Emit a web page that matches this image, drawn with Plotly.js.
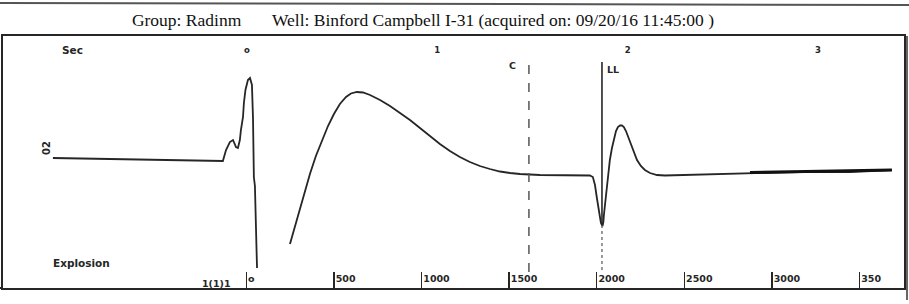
<!DOCTYPE html>
<html>
<head>
<meta charset="utf-8">
<script src="https://cdn.plot.ly/plotly-3.0.1.min.js"></script>
<style>html,body{margin:0;padding:0;background:#fff}#chart{width:909px;height:304px}</style>
</head>
<body>
<div id="chart"></div>
<script>
// Acoustic trace: time (ms) and amplitude (arbitrary units)
const traceTime = [-1104,-836,-550,-265,-134,-116,-94,-76,-59,-48,-37,-31,-19,-14,-5,9,21,32,38,43,49,61,
  209,249,289,329,363,397,432,466,500,534,569,597,631,666,706,763,820,877,934,991,1048,1105,1162,1219,1276,1333,1390,1448,1505,1562,1676,1790,1961,
  1978,1990,2001,2013,2024,2033,2038,2041,2053,2064,2075,2087,2098,2110,2121,2133,2144,2155,2167,2178,2195,2212,2230,2252,2275,2304,2344,2389,2589,2875,3160,3445,3685];
const traceAmp = [130,129,128,127,127,138,146,148,141,140,148,158,171,185,198,208,210,203,170,111,102,20,
  null,44,69,94,114,132,148,162,174,184,191,194.5,196,195.5,193,188,182,175,168,160,152,144,137,131,126,122,119,116.5,115,114,113,112.5,112.5,
  111,103,90,75,65,62,66,73,93,113,128,140,150,157,161,162.5,162.5,161,157,152,143,135,128,122,118,115,113,112.5,113.5,115,116,116,118];
// heavy tail segment
const tailTime = [2875,3160,3445,3685];
const tailAmp = [115.5,116.5,117,118];
// markers
const markerC = 1613;
const markerLL = 2030;
const markerCAmp = [223,16];
const markerLLSolid = [226,63];
const markerLLDotted = [63,18];
// axis ticks
const msTicks = [0,500,1000,1500,2000,2500,3000,3500];
const msTickText = ["o","500","1000","1500","2000","2500","3000","350"];
const secTicks = [0,1,2,3];
const secTickText = ["o","1","2","3"];

const ink = '#262626';
const data = [
  {x: traceTime, y: traceAmp, type:'scatter', mode:'lines', line:{color:ink, width:1.8}, hoverinfo:'skip', connectgaps:false},
  {x: tailTime, y: tailAmp, type:'scatter', mode:'lines', line:{color:'#111', width:3}, hoverinfo:'skip'},
  {x: [markerC, markerC], y: markerCAmp, type:'scatter', mode:'lines', line:{color:'#555', width:1.5, dash:'dash'}, hoverinfo:'skip'},
  {x: [markerLL, markerLL], y: markerLLSolid, type:'scatter', mode:'lines', line:{color:ink, width:1.6}, hoverinfo:'skip'},
  {x: [markerLL, markerLL], y: markerLLDotted, type:'scatter', mode:'lines', line:{color:'#555', width:1.2, dash:'dot'}, hoverinfo:'skip'},
  {x: secTicks, y: secTicks.map(()=>null), xaxis:'x2', type:'scatter', mode:'markers', hoverinfo:'skip'}
];

const W = 909, H = 304, L = 3, R = 5, T = 36, B = 16;
const pw = W - L - R, ph = H - T - B;
const fx = px => (px - L) / pw;
const fy = py => (H - B - py) / ph;
const small = {family:'DejaVu Sans, Arial, sans-serif', size:9.5, color:ink, weight:'bold'};
const label = {family:'DejaVu Sans, Arial, sans-serif', size:10.5, color:ink, weight:'bold'};

const layout = {
  width: W, height: H,
  margin: {l:L, r:R, t:T, b:B, pad:0},
  paper_bgcolor:'#fff', plot_bgcolor:'#fff',
  showlegend:false,
  title: {
    text: 'Group: Radinm\u00a0\u00a0\u00a0\u00a0\u00a0\u00a0\u00a0Well: Binford Campbell I-31 (acquired on: 09/20/16 11:45:00 )',
    font: {family:'Liberation Serif, Times New Roman, serif', size:17.5, color:'#111'},
    x: 423/W, xanchor:'center', xref:'container',
    y: 1 - 20/H, yanchor:'middle', yref:'container'
  },
  xaxis: {
    range:[-1389, 3754], showgrid:false, zeroline:false,
    showline:true, linecolor:ink, linewidth:2, mirror:true,
    tickmode:'array', tickvals: msTicks, ticktext: msTickText,
    ticks:'inside', ticklen:16, tickwidth:1.5, tickcolor:ink,
    ticklabelposition:'inside right', tickfont: small
  },
  xaxis2: {
    overlaying:'x', side:'top', range:[-1.282, 3.452],
    showgrid:false, zeroline:false, showline:false,
    tickmode:'array', tickvals: secTicks, ticktext: secTickText,
    ticks:'', ticklabelposition:'inside', ticklabelstandoff:8,
    tickfont: {family:'DejaVu Sans, Arial, sans-serif', size:8.5, color:ink, weight:'bold'}
  },
  yaxis: {
    range:[0, 252], showgrid:false, zeroline:false, showticklabels:false, ticks:'',
    showline:true, linecolor:ink, linewidth:2, mirror:true
  },
  annotations: [
    {text:'Sec', xref:'paper', yref:'paper', x:fx(72), y:fy(50), showarrow:false, font:label, xanchor:'center', yanchor:'middle'},
    {text:'Explosion', xref:'paper', yref:'paper', x:fx(51), y:fy(263), showarrow:false, font:label, xanchor:'left', yanchor:'middle'},
    {text:'C', xref:'paper', yref:'paper', x:fx(512), y:fy(65), showarrow:false, font:small, xanchor:'center', yanchor:'middle'},
    {text:'LL', xref:'paper', yref:'paper', x:fx(605), y:fy(69), showarrow:false, font:small, xanchor:'left', yanchor:'middle'},
    {text:'02', xref:'paper', yref:'paper', x:fx(46), y:fy(148), showarrow:false, textangle:-90, font:{family:'DejaVu Sans, sans-serif', size:10, color:ink, weight:'bold'}, xanchor:'center', yanchor:'middle'},
    {text:'1(1)1', xref:'paper', yref:'paper', x:fx(200), y:fy(283), showarrow:false, font:small, xanchor:'left', yanchor:'middle'}
  ],
  shapes: [
    {type:'line', xref:'paper', yref:'paper', x0:fx(0), x1:fx(909), y0:fy(3), y1:fy(5), line:{color:'#555', width:2}},
    {type:'line', xref:'paper', yref:'paper', x0:fx(907), x1:fx(907), y0:fy(36), y1:fy(300), line:{color:'#333', width:1.5}},
    {type:'line', xref:'paper', yref:'paper', x0:fx(0), x1:fx(3), y0:fy(288), y1:fy(288), line:{color:ink, width:2}}
  ]
};

Plotly.newPlot('chart', data, layout, {displayModeBar:false, staticPlot:true});
</script>
</body>
</html>
